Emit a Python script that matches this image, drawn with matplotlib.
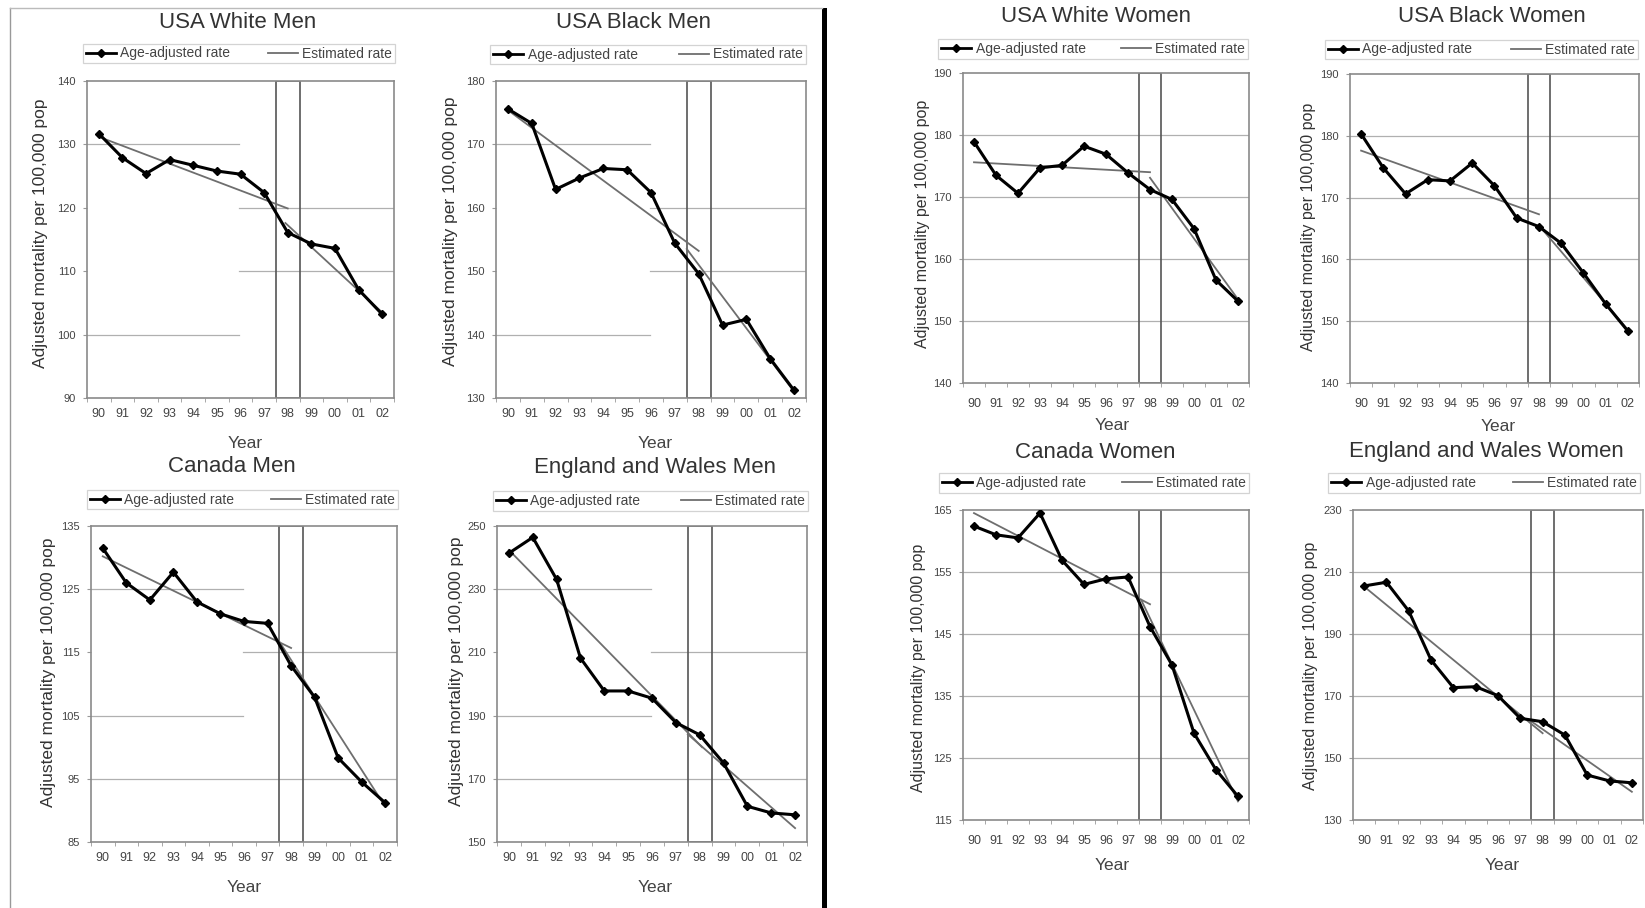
import numpy as np
import matplotlib
matplotlib.use("Agg")
import matplotlib.pyplot as plt
from matplotlib.lines import Line2D
from matplotlib.patches import Rectangle

plt.rcParams['font.family'] = ['Liberation Sans', 'DejaVu Sans']

W, H = 1645, 908

years = ['90', '91', '92', '93', '94', '95', '96', '97', '98', '99', '00', '01', '02']

titles = ['USA White Men', 'USA Black Men', 'Canada Men', 'England and Wales Men',
          'USA White Women', 'USA Black Women', 'Canada Women', 'England and Wales Women']

# age-adjusted mortality per 100,000
white_men = [131.7, 127.9, 125.4, 127.6, 126.7, 125.8, 125.3, 122.4, 116.1, 114.3, 113.6, 107.1, 103.2]
black_men = [175.6, 173.3, 162.9, 164.7, 166.2, 166.0, 162.4, 154.4, 149.6, 141.5, 142.4, 136.2, 131.2]
canada_men = [131.5, 126.0, 123.3, 127.7, 123.0, 121.1, 119.9, 119.6, 112.9, 107.9, 98.3, 94.5, 91.2]
ew_men = [241.4, 246.4, 233.1, 208.2, 197.8, 197.8, 195.5, 187.8, 183.9, 175.0, 161.3, 159.2, 158.6]
white_women = [178.9, 173.5, 170.6, 174.7, 175.1, 178.2, 176.9, 173.9, 171.2, 169.6, 164.9, 156.6, 153.2]
black_women = [180.3, 174.8, 170.6, 172.9, 172.7, 175.6, 171.9, 166.7, 165.3, 162.6, 157.8, 152.8, 148.4]
canada_women = [162.4, 161.0, 160.5, 164.5, 156.9, 153.0, 153.9, 154.2, 146.2, 140.0, 129.0, 123.1, 118.8]
ew_women = [205.5, 206.7, 197.4, 181.6, 172.7, 173.0, 170.1, 162.8, 161.7, 157.4, 144.5, 142.6, 142.0]

# estimated (joinpoint) rate: two segments, (year index, rate) end points
white_men_est = [([0, 8], [131.2, 119.9]), ([7.9, 12], [117.6, 103.5])]
black_men_est = [([0, 8], [175.4, 153.2]), ([7.5, 12], [153.5, 131.0])]
canada_men_est = [([0, 8], [130.2, 115.7]), ([7.5, 12], [116.7, 90.6])]
ew_men_est = [([0, 8.1], [242.4, 180.0]), ([7.5, 12], [184.1, 154.4])]
white_women_est = [([0, 8], [175.6, 174.0]), ([8, 12], [173.1, 153.5])]
black_women_est = [([0, 8], [177.6, 167.3]), ([8, 12], [165.5, 148.6])]
canada_women_est = [([0, 8], [164.5, 149.8]), ([7.6, 12], [150.5, 118.0])]
ew_women_est = [([0, 8], [205.3, 158.0]), ([7.4, 12], [162.3, 139.1])]

rates = [white_men, black_men, canada_men, ew_men,
         white_women, black_women, canada_women, ew_women]
estimates = [white_men_est, black_men_est, canada_men_est, ew_men_est,
             white_women_est, black_women_est, canada_women_est, ew_women_est]

# y axis (low, high, step)
y_ranges = [(90, 140, 10), (130, 180, 10), (85, 135, 10), (150, 250, 20),
            (140, 190, 10), (140, 190, 10), (115, 165, 10), (130, 230, 20)]

# gridlines: L = left part only, R = right part only, F = full width
grids = [[(130, 'L'), (120, 'R'), (110, 'R'), (100, 'L')],
         [(170, 'L'), (160, 'R'), (150, 'R'), (140, 'L')],
         [(125, 'L'), (115, 'R'), (105, 'L'), (95, 'F')],
         [(230, 'L'), (210, 'R'), (190, 'L'), (170, 'F')],
         [(180, 'F'), (170, 'F'), (160, 'F'), (150, 'F')],
         [(180, 'F'), (170, 'F'), (160, 'F'), (150, 'F')],
         [(155, 'F'), (145, 'F'), (135, 'F'), (125, 'F')],
         [(210, 'F'), (190, 'F'), (170, 'F'), (150, 'F')]]

# layout in pixels
axes_px = [(87, 81, 394, 398), (496, 81, 806, 398), (91, 526, 397, 842), (497, 526, 807, 842),
           (963, 73, 1249, 383), (1350, 74, 1639, 383), (963, 510, 1249, 820), (1353, 510, 1643, 820)]
legend_px = [(83, 42, 395, 65), (490, 43, 806, 66), (87, 489, 398, 510), (493, 489, 808, 513),
             (938, 37, 1248, 61), (1325, 38, 1638, 61), (939, 472, 1249, 494), (1328, 471, 1640, 495)]
title_px = [(238, 22), (633, 22), (232, 467), (655, 468),
            (1096, 16), (1492, 16), (1095, 452), (1486, 452)]
year_px = [(245, 443), (655, 443), (244, 887), (655, 888),
           (1112, 426), (1498, 427), (1112, 865), (1502, 865)]
ylab_px = [(41, 233), (451, 231), (49, 672), (457, 671),
           (922, 224), (1308, 227), (918, 668), (1311, 666)]


def fx(x):
    return x / W


def fy(y):
    return 1 - y / H


fig = plt.figure(figsize=(W / 100, H / 100), dpi=100)

x = np.arange(len(years))
split = 5.95 / 13 + 0.5 / 13

for i in range(8):
    l, t, r, b = axes_px[i]
    ax = fig.add_axes([fx(l), fy(b), (r - l) / W, (b - t) / H])
    lo, hi, step = y_ranges[i]
    men = i < 4

    for v, part in grids[i]:
        if part == 'L':
            ax.axhline(v, xmin=0, xmax=split, color='#b0b0b0', lw=0.9, zorder=0)
        elif part == 'R':
            ax.axhline(v, xmin=split, xmax=1, color='#b0b0b0', lw=0.9, zorder=0)
        else:
            ax.axhline(v, color='#b0b0b0', lw=0.9, zorder=0)

    ax.axvspan(7.5, 8.5, fill=False, edgecolor='#555555', lw=1.2, zorder=1)

    for sx, sy in estimates[i]:
        ax.plot(sx, sy, color='#6e6e6e', lw=1.3, zorder=2)
    ax.plot(x, rates[i], color='black', lw=2.2, marker='D', markersize=4.5, zorder=3)

    ax.set_xlim(-0.5, 12.5)
    ax.set_ylim(lo, hi)
    ax.set_yticks(np.arange(lo, hi + 1, step))
    ax.set_xticks(x)
    ax.set_xticklabels(years)
    ax.set_xticks(np.arange(-0.5, 13, 1), minor=True)
    ax.tick_params(axis='x', which='major', length=0, pad=7 if men else 11,
                   labelsize=9, labelcolor='#444444')
    ax.tick_params(axis='x', which='minor', length=3, color='#999999', direction='out')
    ax.tick_params(axis='y', length=3, color='#999999', pad=5,
                   labelsize=8, labelcolor='#444444')
    for s in ax.spines.values():
        s.set_color('#8a8a8a')
        s.set_linewidth(1.2)

    handles = [Line2D([], [], color='black', lw=2.0, marker='D', markersize=4),
               Line2D([], [], color='#6e6e6e', lw=1.3)]
    ll, lt, lr, lb = legend_px[i]
    leg = fig.legend(handles, ['Age-adjusted rate', 'Estimated rate'], ncol=2,
                     loc='center', mode='expand',
                     bbox_to_anchor=(fx(ll), fy(lb), (lr - ll) / W, (lb - lt) / H),
                     bbox_transform=fig.transFigure, fontsize=10, frameon=True,
                     fancybox=False, borderpad=0.2, handlelength=2.2,
                     handletextpad=0.3, columnspacing=1.0, borderaxespad=0)
    leg.get_frame().set_edgecolor('#c8c8c8')
    leg.get_frame().set_linewidth(0.9)
    for txt in leg.get_texts():
        txt.set_color('#444444')

    tx, ty = title_px[i]
    fig.text(fx(tx), fy(ty), titles[i], ha='center', va='center', fontsize=16, color='#333333')
    yx, yy = year_px[i]
    fig.text(fx(yx), fy(yy), 'Year', ha='center', va='center', fontsize=12.5, color='#444444')
    lx, ly = ylab_px[i]
    fig.text(fx(lx), fy(ly), 'Adjusted mortality per 100,000 pop', ha='center', va='center',
             rotation=90, fontsize=12.5 if men else 11.5, color='#333333')

# frame round the men's half and the divider
fig.add_artist(Line2D([fx(10), fx(10)], [0, fy(8)], transform=fig.transFigure,
                      color='#999999', lw=1.0))
fig.add_artist(Line2D([fx(10), fx(822)], [fy(8), fy(8)], transform=fig.transFigure,
                      color='#bbbbbb', lw=1.0))
fig.add_artist(Rectangle((fx(822), 0), 5 / W, fy(8), transform=fig.transFigure,
                         color='black', lw=0))

fig.savefig('out.png', dpi=100)
